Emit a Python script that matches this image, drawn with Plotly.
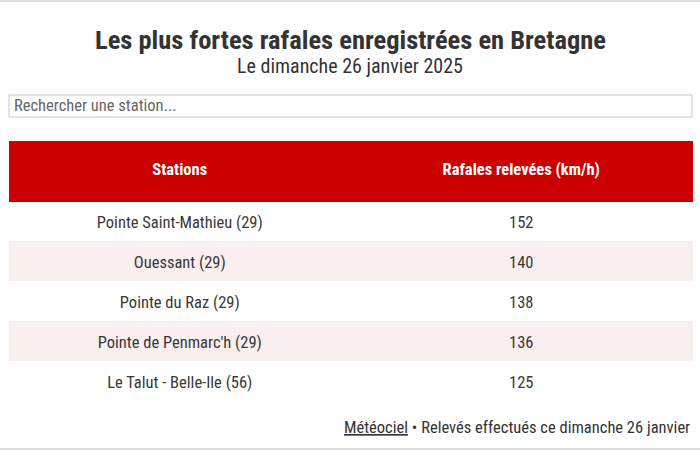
import plotly.graph_objects as go

# Data
stations = [
    "Pointe Saint-Mathieu (29)",
    "Ouessant (29)",
    "Pointe du Raz (29)",
    "Pointe de Penmarc'h (29)",
    "Le Talut - Belle-Ile (56)",
]
rafales = [152, 140, 138, 136, 125]
headers = ["<b>Stations</b>", "<b>Rafales relevées (km/h)</b>"]

FONT = "Liberation Sans Narrow, Roboto Condensed, Roboto, sans-serif"
W, H = 700, 450
RED = "#cc0000"

row_colors = ["#ffffff" if i % 2 == 0 else "#f8efee" for i in range(len(stations))]
blank = [""] * len(stations)

fig = go.Figure()
# background table: fills only
fig.add_trace(go.Table(
    domain=dict(x=[9 / W, 692 / W], y=[0, 1 - 141 / H]),
    header=dict(values=["", ""], fill_color=RED,
                line=dict(color=RED, width=1), height=60),
    cells=dict(values=[blank, blank], fill_color=[row_colors, row_colors],
               line=dict(color=[row_colors, row_colors], width=1), height=40),
))
# text table, shifted a bit down so labels sit mid-row
fig.add_trace(go.Table(
    domain=dict(x=[9 / W, 692 / W], y=[0, 1 - 152 / H]),
    header=dict(
        values=headers,
        fill_color="rgba(0,0,0,0)",
        line=dict(color="rgba(0,0,0,0)", width=0),
        font=dict(family=FONT, size=16.5, color="white"),
        align="center",
        height=56,
    ),
    cells=dict(
        values=[stations, rafales],
        fill_color="rgba(0,0,0,0)",
        line=dict(color="rgba(0,0,0,0)", width=0),
        font=dict(family=FONT, size=16.5, color="#383838"),
        align="center",
        height=40,
    ),
))

# Search box
fig.add_shape(type="rect", xref="paper", yref="paper",
              x0=9 / W, x1=692 / W, y0=1 - 117 / H, y1=1 - 95 / H,
              line=dict(color="#c8c8c8", width=1), fillcolor="white")

# top / bottom border lines
fig.add_shape(type="line", xref="paper", yref="paper", x0=0, x1=1,
              y0=1 - 1 / H, y1=1 - 1 / H, line=dict(color="#dddddd", width=2))
fig.add_shape(type="line", xref="paper", yref="paper", x0=0, x1=1,
              y0=1 / H, y1=1 / H, line=dict(color="#dddddd", width=2))

def note(text, x, y, size, color="#333333", xanchor="center"):
    fig.add_annotation(text=text, x=x, y=1 - y / H, xref="paper", yref="paper",
                       showarrow=False, xanchor=xanchor, yanchor="middle",
                       font=dict(family=FONT, size=size, color=color))

note("<b>Les plus fortes rafales enregistrées en Bretagne</b>", 0.5, 39, 26.5)
note("Le dimanche 26 janvier 2025", 0.5, 66, 20)
note("Rechercher une station...", 12 / W, 106, 16.5, color="#666666", xanchor="left")
note("<u>Météociel</u> • Relevés effectués ce dimanche 26 janvier", 692 / W, 427, 16.5,
     xanchor="right")

fig.update_layout(
    width=W, height=H,
    margin=dict(l=0, r=0, t=0, b=0),
    paper_bgcolor="white",
    plot_bgcolor="white",
)

fig.write_html("out.html", config={"displayModeBar": False},
               post_script="document.body.style.margin='0';")
